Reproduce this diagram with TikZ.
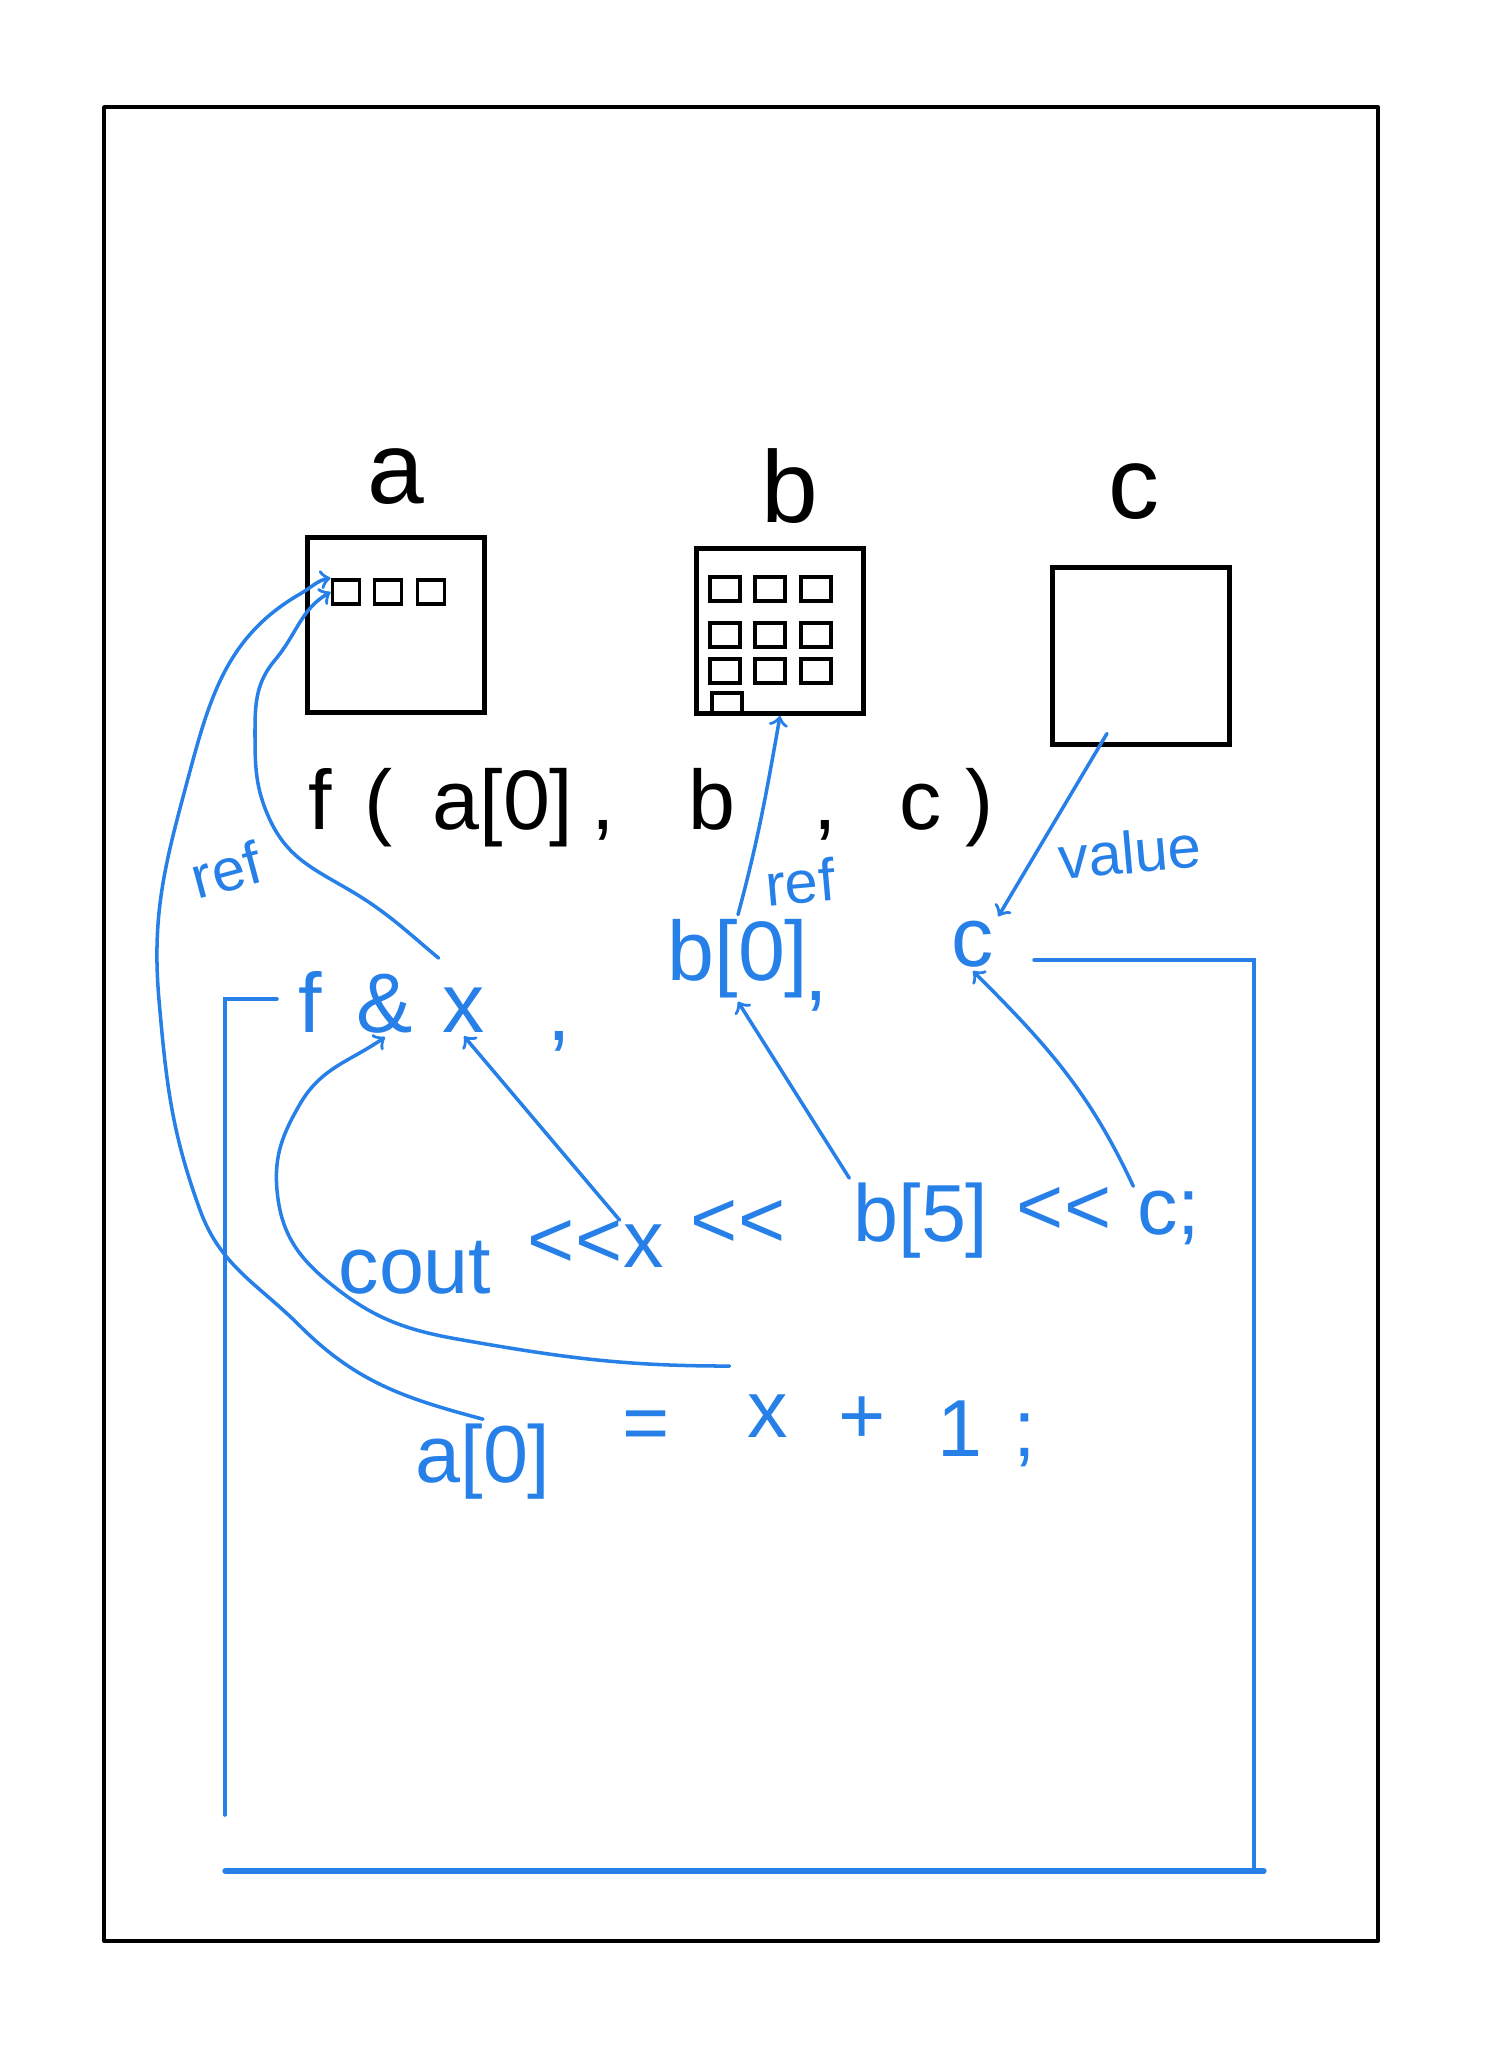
\documentclass[tikz,border=0pt]{standalone}
\usepackage{fontspec}
\setmainfont{Liberation Sans}
\usetikzlibrary{positioning}
\definecolor{penblue}{RGB}{38,128,232}

\begin{document}
\begin{tikzpicture}[x=0.01cm, y=-0.01cm,
    ink/.style={line width=1.1pt, line join=round},
    box/.style={draw, line width=1.4pt, inner sep=0pt},
    cell/.style={draw, line width=1.1pt, inner sep=0pt, minimum width=0.27cm, minimum height=0.24cm},
    pen/.style={penblue, line width=1pt, line cap=round, >=to},
    varlab/.style={anchor=base, inner sep=1pt, font=\fontsize{29}{31}\selectfont},
    calltxt/.style={anchor=base, inner sep=1pt, font=\fontsize{24}{26}\selectfont},
    codetxt/.style={anchor=base, inner sep=1pt, text=penblue, font=\fontsize{24}{26}\selectfont},
    outtxt/.style={anchor=base, inner sep=1pt, text=penblue, font=\fontsize{23}{25}\selectfont},
    note/.style={inner sep=0pt, text=penblue, font=\fontsize{17}{19}\selectfont}]
        \useasboundingbox (0,0) rectangle (1507,2048);

        % hoja
        \draw[ink] (104,107) rectangle (1378,1941);

        % variables a, b, c
        \node[box, minimum width=1.77cm, minimum height=1.75cm] (boxA) at (396,625) {};
        \node[box, minimum width=1.67cm, minimum height=1.65cm] (boxB) at (780,631) {};
        \node[box, minimum width=1.76cm, minimum height=1.76cm] (boxC) at (1141,656) {};
        \node[varlab] (labA) at (396,503) {a};
        \node[varlab] (labB) at (790,522) {b};
        \node[varlab] (labC) at (1134,518) {c};

        % celdas
        \foreach \i/\x in {1/346, 2/388, 3/431}
            \node[cell] (cellA\i) at (\x,592) {};
        \foreach \y in {589,635,671}
            \foreach \x in {725,770,816}
                \node[cell, minimum width=0.3cm] at (\x,\y) {};
        \node[cell, minimum width=0.3cm, minimum height=0.2cm] (cellB10) at (727,703) {};

        % llamada
        \foreach \n/\x/\t in {callF/320/f, callL/379/(, callA/503/a[0], callK/603/{,}, callB/712/b, callKK/825/{,}, callC/921/c, callR/980/)}
            \node[calltxt] (\n) at (\x,829) {\t};

        % parametros
        \foreach \n/\x/\y/\t in {parF/310/1032/f, parAmp/385/1032/\&, parX/464/1032/x, parK/559/1040/{,}, parB/738/980/b[0], parKK/816/1000/{,}, parC/973/966/c}
            \node[codetxt] (\n) at (\x,\y) {\t};

        % cuerpo
        \foreach \n/\x/\y/\t in {outCout/415/1293/cout, outL/575/1267/{{<}{<}}, outX/644/1267/x, outLL/738/1247/{{<}{<}}, outB/921/1241/b[5], outLLL/1064/1234/{{<}{<}}, outC/1169/1234/c;}
            \node[outtxt] (\n) at (\x,\y) {\t};
        \foreach \n/\x/\y/\t in {stA/483/1482/a[0], stEq/646/1450/=, stX/768/1437/x, stPlus/862/1443/+, stOne/960/1456/1, stSemi/1025/1456/;}
            \node[outtxt] (\n) at (\x,\y) {\t};

        % marco de la funcion
        \draw[pen] (225,1815) -- (225,999) -- (277,999);
        \draw[pen] (1034,960) -- (1254,960) -- (1254,1871);
        \draw[pen, line width=1.5pt] (225,1871) -- (1264,1871);

        % referencias
        \draw[pen, ->] (stA.north) to[out=165,in=-45] (300,1326) to[out=135,in=-70] (200,1210) to[out=110,in=-85] (159,1000) to[out=95,in=-105] (190,771) to[out=75,in=-150] (300,594) to[out=30,in=190] (cellA1.north west);
        \draw[pen, ->] ([yshift=0.25cm]parX.north west) to[out=140,in=-30] (346,888) to[out=150,in=-65] (270,820) to[out=115,in=-90] (255,730) to[out=90,in=-130] (275,660) to[out=50,in=-150] (cellA1.west);
        \draw[pen, ->] (parB.north) to[out=75,in=-100] (boxB.south);
        \draw[pen, ->] ([xshift=-0.34cm, yshift=0.13cm]boxC.south) -- (parC.north east);
        \node[note, rotate=15] (refA) at (226,870) {ref};
        \node[note, rotate=5] (refB) at (800,882) {ref};
        \node[note, rotate=5] (valC) at (1130,852) {value};

        % usos dentro de f
        \draw[pen, ->] (outX.north west) -- (parX.south);
        \draw[pen, ->] (outB.north west) -- (parB.south);
        \draw[pen, ->] (outC.north west) to[out=115,in=-45] (parC.south);
        \draw[pen, ->] ([xshift=-0.14cm, yshift=0.24cm]stX.north west) to[out=180,in=-10] (457,1339) to[out=170,in=-40] (326,1280) to[out=140,in=-85] (277,1190) to[out=95,in=-120] (300,1104) to[out=60,in=-145] (parAmp.south);
    \end{tikzpicture}
\end{document}
